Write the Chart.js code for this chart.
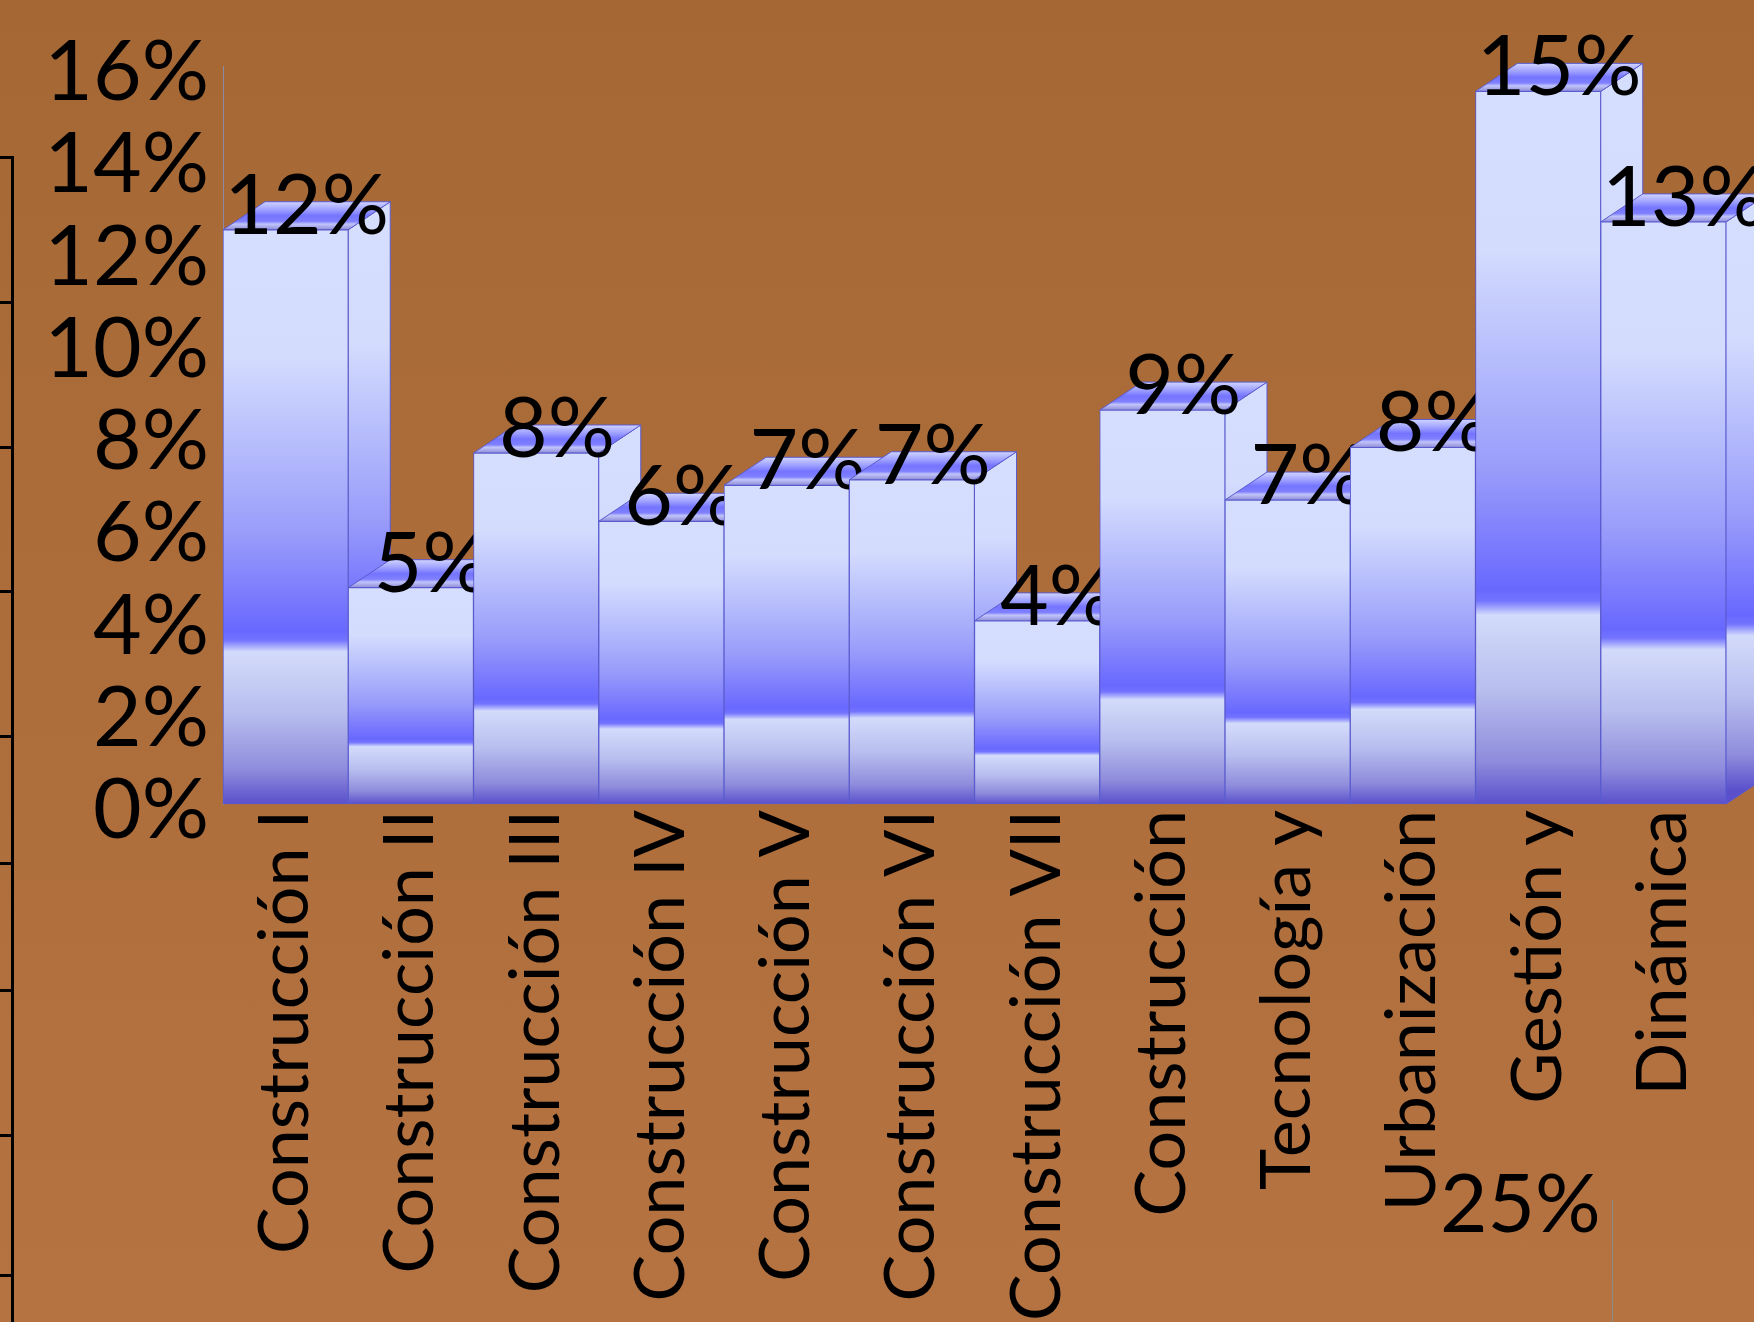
<!DOCTYPE html>
<html>
<head>
<meta charset="utf-8">
<script src="https://cdn.jsdelivr.net/npm/chart.js@4.4.1/dist/chart.umd.min.js"></script>
<style>
  body { margin: 0; }
  #wrap {
    position: relative; width: 1754px; height: 1322px; overflow: hidden;
    background: linear-gradient(#a56834, #b57341);
    font-family: Lato, sans-serif;
  }
  canvas { position: absolute; }
  #main { left: 0; top: 0; }
  #ghost { left: 0; top: 147px; }
  #stray { position: absolute; left: 1440px; top: 1151px; font-size: 82px; color: #000; }
  #strayLine { position: absolute; left: 1612px; top: 1200px; width: 1px; height: 122px; background: #8a8a8a; }
</style>
</head>
<body>
<div id="wrap">
  <canvas id="main" width="1754" height="1322"></canvas>
  <canvas id="ghost" width="40" height="1175"></canvas>
  <div id="strayLine"></div>
  <div id="stray">25%</div>
</div>
<script>
// data
const categories = [
  'Construcción I', 'Construcción II', 'Construcción III', 'Construcción IV',
  'Construcción V', 'Construcción VI', 'Construcción VII', 'Construcción',
  'Tecnología y', 'Urbanización', 'Gestión y', 'Dinámica'
]
const shares = [0.1245, 0.0469, 0.0761, 0.0613, 0.0691, 0.0703, 0.0397, 0.0854, 0.0659, 0.0773, 0.1545, 0.1262]
const yMax = 0.16
const yStep = 0.02
// leftover axis from a neighbouring chart (offsets along that axis)
const ghostTicks = [0, 145, 290, 434, 579, 706, 833, 978, 1118]

const depth = { dx: 42, dy: 28 }
const edge = '#5b5bcf'
const bigFont = 84

function frontGradient(ctx, top, base) {
  const g = ctx.createLinearGradient(0, top, 0, base)
  g.addColorStop(0, '#d6defe')
  g.addColorStop(0.22, '#d4dcfe')
  g.addColorStop(0.36, '#b9c0fc')
  g.addColorStop(0.53, '#9a9cfa')
  g.addColorStop(0.70, '#6868ff')
  g.addColorStop(0.715, '#7474ff')
  g.addColorStop(0.735, '#d3dbfb')
  g.addColorStop(0.84, '#b8beee')
  g.addColorStop(0.94, '#8e8cdc')
  g.addColorStop(1, '#5a50cc')
  return g
}

function topGradient(ctx, back, front) {
  const g = ctx.createLinearGradient(0, back, 0, front)
  g.addColorStop(0, '#d0d4ff')
  g.addColorStop(0.3, '#9c9eff')
  g.addColorStop(0.5, '#7474ff')
  g.addColorStop(0.7, '#8080ff')
  g.addColorStop(0.8, '#c0c4fa')
  g.addColorStop(0.9, '#a8a8e8')
  g.addColorStop(1, '#8c8cd8')
  return g
}

function frontFill(c) {
  const chart = c.chart
  if (!chart.chartArea || c.type !== 'data') return '#d6defe'
  const ys = chart.scales.y
  return frontGradient(chart.ctx, ys.getPixelForValue(shares[c.dataIndex]), ys.getPixelForValue(0))
}

// draws side + top faces, then the front bar, then its label, bar by bar
const bar3d = {
  id: 'bar3d',
  beforeDatasetDraw(chart, args) {
    const ctx = chart.ctx
    const { dx, dy } = depth
    ctx.save()
    args.meta.data.forEach((bar, i) => {
      const { x, y, base, width } = bar.getProps(['x', 'y', 'base', 'width'], true)
      const l = x - width / 2
      const r = x + width / 2
      ctx.lineWidth = 1
      ctx.strokeStyle = edge

      ctx.beginPath()
      ctx.moveTo(r, y)
      ctx.lineTo(r + dx, y - dy)
      ctx.lineTo(r + dx, base - dy)
      ctx.lineTo(r, base)
      ctx.closePath()
      ctx.fillStyle = frontGradient(ctx, y - dy / 2, base - dy / 2)
      ctx.fill()
      ctx.stroke()

      ctx.beginPath()
      ctx.moveTo(l, y)
      ctx.lineTo(l + dx, y - dy)
      ctx.lineTo(r + dx, y - dy)
      ctx.lineTo(r, y)
      ctx.closePath()
      ctx.fillStyle = topGradient(ctx, y - dy, y)
      ctx.fill()
      ctx.stroke()

      bar.draw(ctx, chart.chartArea)

      ctx.fillStyle = '#000'
      ctx.font = bigFont + 'px Lato'
      ctx.textAlign = 'center'
      ctx.textBaseline = 'alphabetic'
      ctx.fillText(Math.round(shares[i] * 100) + '%', x + dx / 2, y + 4)
    })
    ctx.restore()
    return false
  }
}

new Chart(document.getElementById('main'), {
  type: 'bar',
  data: {
    labels: categories,
    datasets: [{
      data: shares,
      backgroundColor: frontFill,
      borderColor: edge,
      borderWidth: 1,
      borderSkipped: false,
      categoryPercentage: 1,
      barPercentage: 1
    }]
  },
  options: {
    responsive: false,
    animation: false,
    devicePixelRatio: 1,
    layout: { padding: { top: 66, right: 28, left: 0, bottom: 0 } },
    plugins: { legend: { display: false }, tooltip: { enabled: false } },
    scales: {
      x: {
        ticks: {
          color: '#000', font: { family: 'Lato', size: 70 },
          minRotation: 90, maxRotation: 90, padding: 6, autoSkip: false
        },
        grid: { display: false, drawTicks: false },
        border: { display: false },
        afterFit: s => {
          s.height = 518
          s.paddingLeft = 0
          s.paddingRight = 0
        }
      },
      y: {
        min: 0,
        max: yMax,
        ticks: {
          stepSize: yStep,
          autoSkip: false,
          callback: v => Math.round(v * 100) + '%',
          color: '#000', font: { family: 'Lato', size: bigFont },
          padding: 14, labelOffset: 7
        },
        grid: { display: false, drawTicks: false },
        border: { display: true, color: '#8a8aa8', width: 1 },
        afterFit: s => { s.width = 223 }
      }
    }
  },
  plugins: [bar3d]
})

new Chart(document.getElementById('ghost'), {
  type: 'line',
  data: { datasets: [] },
  options: {
    responsive: false,
    animation: false,
    devicePixelRatio: 1,
    layout: { padding: { top: 10, bottom: 0, left: 0, right: 0 } },
    plugins: { legend: { display: false }, tooltip: { enabled: false } },
    scales: {
      x: { display: false },
      y: {
        type: 'linear', reverse: true, min: 0, max: 1165,
        afterBuildTicks: s => { s.ticks = ghostTicks.map(v => ({ value: v })) },
        ticks: { display: false },
        grid: { display: true, drawOnChartArea: false, drawTicks: true, tickLength: 12, color: '#000', lineWidth: 3 },
        border: { display: true, color: '#000', width: 3 },
        afterFit: s => { s.width = 12 }
      }
    }
  }
})
</script>
</body>
</html>
